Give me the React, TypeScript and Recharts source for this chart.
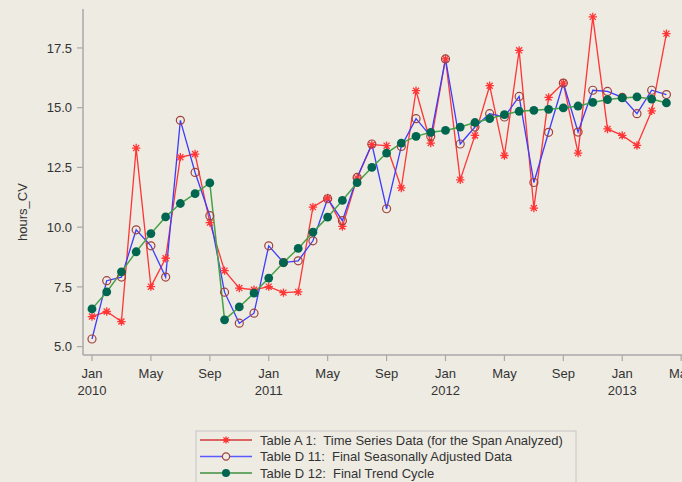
import React from 'react';
import { LineChart, Line, XAxis, YAxis } from 'recharts';

const periods = [
  'Jan 2010', 'Feb 2010', 'Mar 2010', 'Apr 2010', 'May 2010', 'Jun 2010', 'Jul 2010', 'Aug 2010', 'Sep 2010', 'Oct 2010', 'Nov 2010', 'Dec 2010',
  'Jan 2011', 'Feb 2011', 'Mar 2011', 'Apr 2011', 'May 2011', 'Jun 2011', 'Jul 2011', 'Aug 2011', 'Sep 2011', 'Oct 2011', 'Nov 2011', 'Dec 2011',
  'Jan 2012', 'Feb 2012', 'Mar 2012', 'Apr 2012', 'May 2012', 'Jun 2012', 'Jul 2012', 'Aug 2012', 'Sep 2012', 'Oct 2012', 'Nov 2012', 'Dec 2012',
  'Jan 2013', 'Feb 2013', 'Mar 2013', 'Apr 2013',
];

// Table A 1: Time Series Data
const tableA1 = [
  6.26, 6.47, 6.05, 13.31, 7.51, 8.70, 12.93, 13.06, 10.19, 8.18, 7.45, 7.38,
  7.51, 7.26, 7.29, 10.84, 11.22, 10.03, 12.05, 13.45, 13.41, 11.64, 15.71, 13.52,
  17.04, 11.98, 13.84, 15.92, 13.00, 17.40, 10.80, 15.43, 16.03, 13.10, 18.80, 14.11,
  13.84, 13.42, 14.87, 18.10,
];

// Table D 11: Final Seasonally Adjusted Data
const tableD11 = [
  5.32, 7.76, 7.91, 9.89, 9.22, 7.91, 14.47, 12.29, 10.48, 7.28, 5.98, 6.40,
  9.22, 8.52, 8.59, 9.43, 11.19, 10.27, 12.08, 13.48, 10.77, 13.38, 14.54, 13.80,
  17.04, 13.48, 14.19, 14.75, 14.61, 15.47, 11.87, 13.97, 16.03, 13.98, 15.73, 15.68,
  15.43, 14.75, 15.73, 15.55,
];

// Table D 12: Final Trend Cycle
const tableD12 = [
  6.58, 7.29, 8.13, 8.97, 9.73, 10.43, 10.99, 11.40, 11.85, 6.12, 6.66, 7.24,
  7.87, 8.52, 9.11, 9.79, 10.42, 11.12, 11.86, 12.50, 13.10, 13.52, 13.80, 13.97,
  14.05, 14.19, 14.38, 14.54, 14.71, 14.85, 14.89, 14.93, 14.99, 15.07, 15.22, 15.34,
  15.41, 15.45, 15.36, 15.20,
];

const xTicks = [0, 4, 8, 12, 16, 20, 24, 28, 32, 36, 40];
const xTickMonths = ['Jan', 'May', 'Sep', 'Jan', 'May', 'Sep', 'Jan', 'May', 'Sep', 'Jan', 'May'];
const xTickYears = ['2010', '', '', '2011', '', '', '2012', '', '', '2013', ''];
const yTicks = [5, 7.5, 10, 12.5, 15, 17.5];

const legendLabels = [
  'Table A 1:  Time Series Data (for the Span Analyzed)',
  'Table D 11:  Final Seasonally Adjusted Data',
  'Table D 12:  Final Trend Cycle',
];

const data = periods.map((p, i) => ({
  i,
  period: p,
  a1: tableA1[i],
  d11: tableD11[i],
  d12: tableD12[i],
}));

const BG = '#EEEBE3';
const FONT = '"Liberation Sans", Arial, sans-serif';
const FS = 13;
const AXIS = '#A8A8A8';
const TEXT = '#333333';
const RED = '#FF3535';
const BLUE = '#3C3CFF';
const CIRCLE = '#A0423C';
const GREEN_LINE = '#47A247';
const GREEN_DOT = '#006650';

const starPath = (cx: number, cy: number, r: number) => {
  const d = r * 0.72;
  return `M${cx - r},${cy}L${cx + r},${cy}M${cx},${cy - r}L${cx},${cy + r}M${cx - d},${cy - d}L${cx + d},${cy + d}M${cx - d},${cy + d}L${cx + d},${cy - d}`;
};

const StarDot = (props: any) => {
  const { cx, cy } = props;
  if (cx == null || cy == null) return null;
  return <path d={starPath(cx, cy, 4.2)} stroke={RED} strokeWidth={1.3} fill="none" />;
};

const CircleDot = (props: any) => {
  const { cx, cy } = props;
  if (cx == null || cy == null) return null;
  return <circle cx={cx} cy={cy} r={4} stroke={CIRCLE} strokeWidth={1.2} fill="none" />;
};

const FilledDot = (props: any) => {
  const { cx, cy } = props;
  if (cx == null || cy == null) return null;
  return <circle cx={cx} cy={cy} r={4.4} fill={GREEN_DOT} stroke="none" />;
};

const XTick = (props: any) => {
  const { x, y, payload } = props;
  const k = xTicks.indexOf(payload.value);
  if (k < 0) return null;
  return (
    <g>
      <text x={x} y={y + 15} textAnchor="middle" fontSize={FS} fill={TEXT} fontFamily={FONT}>
        {xTickMonths[k]}
      </text>
      {xTickYears[k] && (
        <text x={x} y={y + 32} textAnchor="middle" fontSize={FS} fill={TEXT} fontFamily={FONT}>
          {xTickYears[k]}
        </text>
      )}
    </g>
  );
};

const YLabel = () => (
  <text
    x={22}
    y={212}
    transform="rotate(-90 22 212)"
    textAnchor="middle"
    dominantBaseline="central"
    fontSize={FS}
    fill={TEXT}
    fontFamily={FONT}
  >
    hours_CV
  </text>
);

const Legend = () => {
  const rows = [10, 26.5, 43];
  return (
    <svg
      width={382}
      height={60}
      style={{ position: 'absolute', left: 195, top: 430 }}
    >
      <rect x={1} y={1} width={380} height={70} fill="none" stroke="#C6C6C6" strokeWidth={1} />
      <line x1={5} y1={rows[0]} x2={57} y2={rows[0]} stroke="#D23A3A" strokeWidth={1.3} />
      <path d={starPath(31, rows[0], 3.6)} stroke={RED} strokeWidth={1.3} fill="none" />
      <line x1={5} y1={rows[1]} x2={57} y2={rows[1]} stroke="#5A5AFF" strokeWidth={1.3} />
      <circle cx={31} cy={rows[1]} r={3.6} stroke={CIRCLE} strokeWidth={1.2} fill={BG} />
      <line x1={5} y1={rows[2]} x2={57} y2={rows[2]} stroke="#3E8F3E" strokeWidth={1.3} />
      <circle cx={31} cy={rows[2]} r={4} fill={GREEN_DOT} />
      {legendLabels.map((t, k) => (
        <text
          key={t}
          x={65}
          y={rows[k]}
          dominantBaseline="central"
          fontSize={FS}
          fill={TEXT}
          fontFamily={FONT}
          style={{ whiteSpace: 'pre' }}
        >
          {t}
        </text>
      ))}
    </svg>
  );
};

export default function App() {
  return (
    <div
      style={{
        position: 'fixed',
        left: 0,
        top: 0,
        width: 682,
        height: 482,
        overflow: 'hidden',
        background: BG,
        fontFamily: FONT,
      }}
    >
      <LineChart
        width={690}
        height={405}
        data={data}
        margin={{ top: 9, right: 0, bottom: 0, left: 0 }}
      >
        <XAxis
          dataKey="i"
          type="number"
          domain={[-0.61, 40.6]}
          ticks={xTicks}
          interval={0}
          allowDataOverflow
          height={50}
          axisLine={{ stroke: AXIS, strokeWidth: 1.5 }}
          tickLine={{ stroke: AXIS, strokeWidth: 1.2 }}
          tickSize={6}
          tick={<XTick />}
        />
        <XAxis
          xAxisId="top"
          dataKey="i"
          type="number"
          orientation="top"
          domain={[-0.61, 40.6]}
          height={0}
          tick={false}
          tickLine={false}
          axisLine={{ stroke: AXIS, strokeWidth: 1.5 }}
        />
        <YAxis
          type="number"
          domain={[4.65, 19.13]}
          ticks={yTicks}
          interval={0}
          allowDataOverflow
          width={83}
          axisLine={{ stroke: AXIS, strokeWidth: 1.5 }}
          tickLine={{ stroke: AXIS, strokeWidth: 1.2 }}
          tickSize={6}
          tickMargin={5}
          tickFormatter={(v: number) => v.toFixed(1)}
          tick={{ fontSize: FS, fill: TEXT, fontFamily: FONT }}
          label={{ content: () => <YLabel /> }}
        />
        <Line
          type="linear"
          dataKey="a1"
          stroke={RED}
          strokeWidth={1.3}
          dot={<StarDot />}
          activeDot={false}
          isAnimationActive={false}
        />
        <Line
          type="linear"
          dataKey="d11"
          stroke={BLUE}
          strokeWidth={1.3}
          dot={<CircleDot />}
          activeDot={false}
          isAnimationActive={false}
        />
        <Line
          type="linear"
          dataKey="d12"
          stroke={GREEN_LINE}
          strokeWidth={1.5}
          dot={<FilledDot />}
          activeDot={false}
          isAnimationActive={false}
        />
      </LineChart>
      <Legend />
    </div>
  );
}
